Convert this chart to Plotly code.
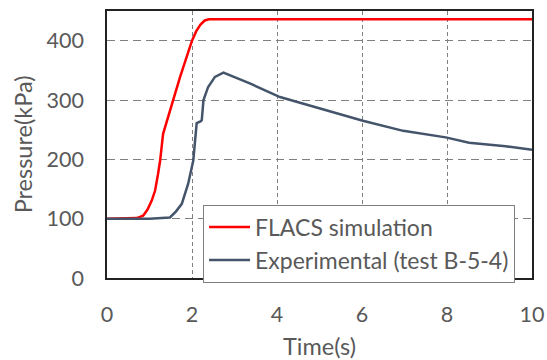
import plotly.graph_objects as go

# FLACS simulation
flacs_t = [0, 0.5, 0.7, 0.85, 0.95, 1.05, 1.13, 1.2, 1.25, 1.32, 1.45, 1.56, 1.72, 1.9, 2.0, 2.1, 2.2, 2.3, 2.4, 10]
flacs_p = [100, 100, 101, 105, 115, 130, 147, 175, 198, 243, 275, 300, 339, 378, 400, 416, 427, 434, 436, 436]

# Experimental (test B-5-4)
exp_t = [0, 1.0, 1.48, 1.62, 1.76, 1.91, 2.03, 2.09, 2.11, 2.2, 2.23, 2.27, 2.38, 2.54, 2.74,
         3.36, 4.07, 4.85, 6.02, 6.97, 7.97, 8.52, 9.38, 10]
exp_p = [100, 100, 102, 112, 125, 159, 198, 238, 261, 264, 266, 300, 322, 339, 346,
         328, 305, 289, 265, 248, 237, 228, 222, 216]

x_ticks = [0, 2, 4, 6, 8, 10]
y_ticks = [0, 100, 200, 300, 400]
x_title = "Time(s)"
y_title = "Pressure(kPa)"

FONT = "Lato"
TICKC = "#595959"

fig = go.Figure()
fig.add_trace(go.Scatter(x=flacs_t, y=flacs_p, mode="lines", name="FLACS simulation",
                         line=dict(color="#FF0000", width=2.5)))
fig.add_trace(go.Scatter(x=exp_t, y=exp_p, mode="lines", name="Experimental (test B-5-4)",
                         line=dict(color="#44546A", width=2.5)))

fig.update_layout(
    width=547, height=360,
    margin=dict(l=107, r=15, t=11, b=82),
    paper_bgcolor="white", plot_bgcolor="white",
    font=dict(family=FONT, color=TICKC, size=22),
    showlegend=True,
    legend=dict(x=0.226, y=0.275, xanchor="left", yanchor="top",
                bgcolor="white", bordercolor="#7f7f7f", borderwidth=1,
                font=dict(family=FONT, size=23, color=TICKC),
                tracegroupgap=0, itemwidth=41),
    annotations=[
        dict(text=x_title, xref="paper", yref="paper", x=0.5, y=-0.255,
             xanchor="center", yanchor="middle", showarrow=False,
             font=dict(family=FONT, size=23.5, color=TICKC)),
        dict(text=y_title, xref="paper", yref="paper", x=-0.198, y=0.5,
             xanchor="center", yanchor="middle", showarrow=False, textangle=-90,
             font=dict(family=FONT, size=23.5, color=TICKC)),
    ],
)
fig.update_xaxes(
    range=[0, 10], tickvals=x_ticks, ticktext=[str(v) for v in x_ticks],
    showline=True, mirror=True, linecolor="#222222", linewidth=1.5,
    showgrid=True, gridcolor="#808080", gridwidth=1, griddash="4px,3px",
    zeroline=False, ticks="", ticklabelstandoff=16, automargin=False,
    tickfont=dict(family=FONT, size=21.5, color=TICKC),
)
fig.update_yaxes(
    range=[0, 450], tickvals=y_ticks, ticktext=[str(v) for v in y_ticks],
    showline=True, mirror=True, linecolor="#222222", linewidth=1.5,
    showgrid=True, gridcolor="#808080", gridwidth=1, griddash="8px,5px",
    zeroline=False, ticks="", ticklabelstandoff=17, automargin=False,
    tickfont=dict(family=FONT, size=21.5, color=TICKC),
)

fig.write_html("out.html", config={"displayModeBar": False},
               post_script="document.body.style.margin='0';")
